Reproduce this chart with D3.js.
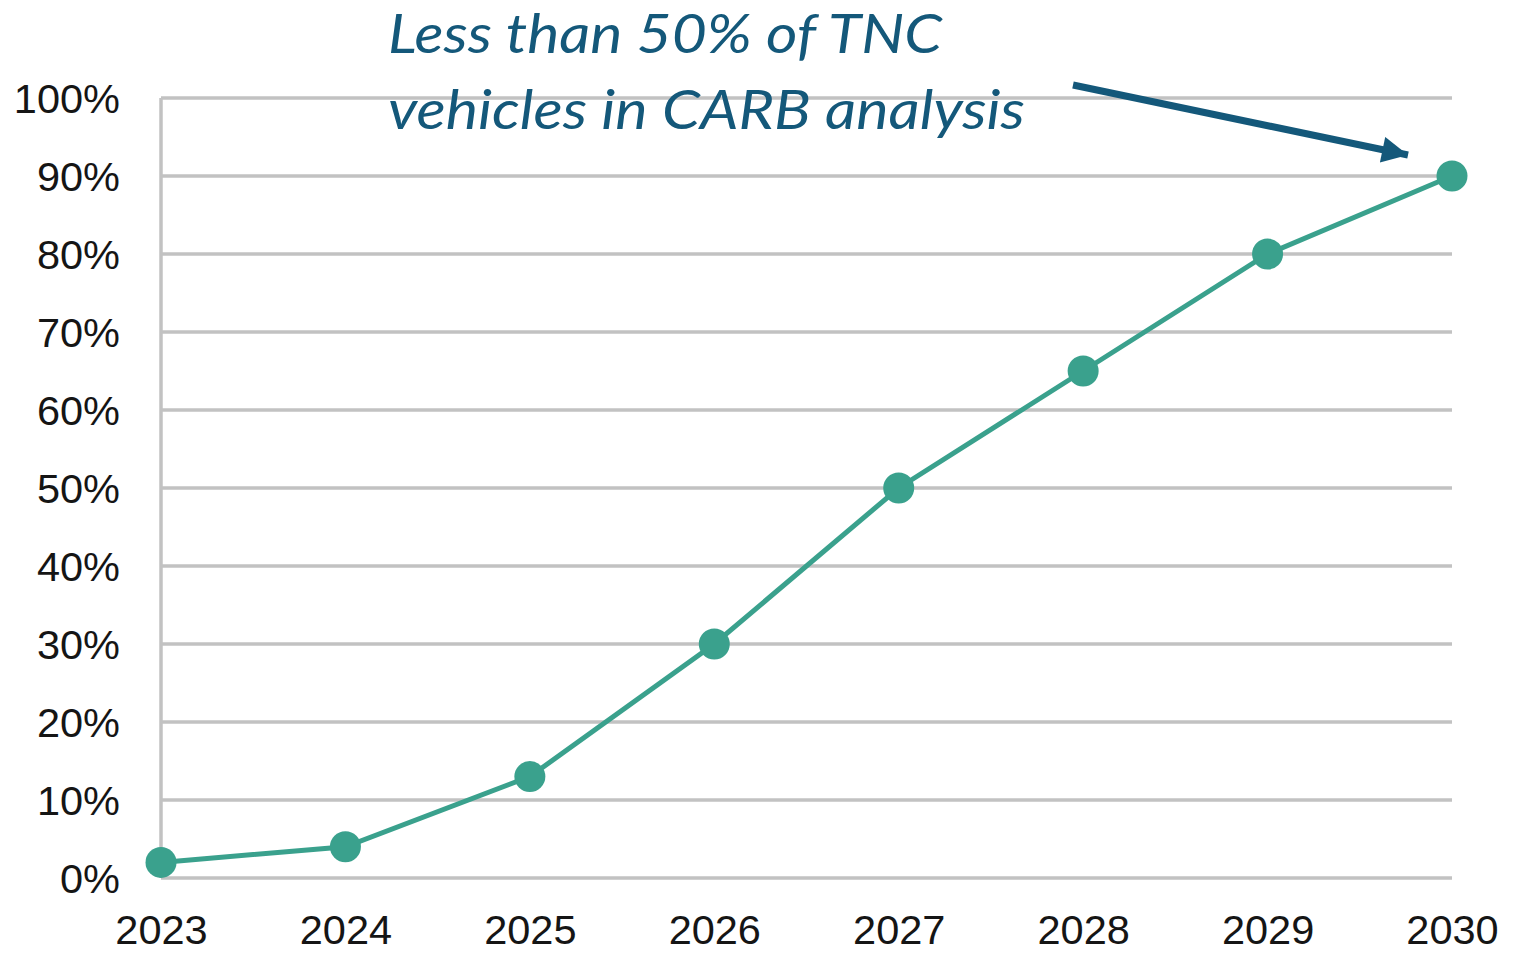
<!DOCTYPE html>
<html>
<head>
<meta charset="utf-8">
<script src="https://cdn.jsdelivr.net/npm/d3@7"></script>
<style>
  html, body { margin: 0; padding: 0; background: #fff; }
  svg { display: block; }
</style>
</head>
<body>
<script>
// values
var years = ['2023', '2024', '2025', '2026', '2027', '2028', '2029', '2030'];
var shares = [2, 4, 13, 30, 50, 65, 80, 90];
var yTicks = [0, 10, 20, 30, 40, 50, 60, 70, 80, 90, 100];
var noteLines = ['Less than 50% of TNC', 'vehicles in CARB analysis'];

var width = 1532,
    height = 953;

var plot = { left: 161, right: 1452, top: 98, bottom: 878 };

var svg = d3.select('body')
    .append('svg')
    .attr('width', width)
    .attr('height', height);

var x = d3.scalePoint()
    .domain(years)
    .range([plot.left, plot.right]);

var y = d3.scaleLinear()
    .domain([0, 100])
    .range([plot.bottom, plot.top]);

// gridlines
svg.append('g')
    .selectAll('line')
    .data(yTicks)
    .enter()
    .append('line')
    .attr('x1', plot.left)
    .attr('x2', plot.right)
    .attr('y1', function(d){ return y(d); })
    .attr('y2', function(d){ return y(d); })
    .attr('stroke', '#c2c2c2')
    .attr('stroke-width', 3.5);

svg.append('line')
    .attr('x1', plot.left)
    .attr('x2', plot.left)
    .attr('y1', plot.top)
    .attr('y2', plot.bottom)
    .attr('stroke', '#c2c2c2')
    .attr('stroke-width', 3.5);

// y axis labels
var yAxis = svg.append('g')
    .attr('transform', 'translate(' + (plot.left - 41) + ',0)')
    .call(d3.axisLeft(y).tickValues(yTicks).tickSize(0).tickPadding(0)
        .tickFormat(function(d){ return d + '%'; }));
yAxis.select('.domain').remove();
yAxis.selectAll('text')
    .attr('font-family', 'Liberation Sans, Arial, sans-serif')
    .attr('font-size', 41.5)
    .attr('fill', '#151515')
    .attr('dy', '0.34em');

// x axis labels
var xAxis = svg.append('g')
    .attr('transform', 'translate(0,' + (plot.bottom + 37) + ')')
    .call(d3.axisBottom(x).tickSize(0).tickPadding(0));
xAxis.select('.domain').remove();
xAxis.selectAll('text')
    .attr('font-family', 'Liberation Sans, Arial, sans-serif')
    .attr('font-size', 41.5)
    .attr('fill', '#151515')
    .attr('dy', '0.71em');

// series
var line = d3.line()
    .x(function(d, i){ return x(years[i]); })
    .y(function(d){ return y(d); });

svg.append('path')
    .datum(shares)
    .attr('d', line)
    .attr('fill', 'none')
    .attr('stroke', '#3aa18d')
    .attr('stroke-width', 5);

svg.append('g')
    .selectAll('circle')
    .data(shares)
    .enter()
    .append('circle')
    .attr('cx', function(d, i){ return x(years[i]); })
    .attr('cy', function(d){ return y(d); })
    .attr('r', 15.5)
    .attr('fill', '#3aa18d');

// annotation
var note = svg.append('text')
    .attr('font-family', 'Lato, "Open Sans", sans-serif')
    .attr('font-style', 'italic')
    .attr('font-size', 54)
    .attr('fill', '#14587a');

note.selectAll('tspan')
    .data(noteLines)
    .enter()
    .append('tspan')
    .attr('x', 388)
    .attr('y', function(d, i){ return 53 + i * 76; })
    .attr('textLength', function(d, i){ return i === 0 ? 554 : 637; })
    .attr('lengthAdjust', 'spacingAndGlyphs')
    .text(function(d){ return d; });

svg.append('defs')
    .append('marker')
    .attr('id', 'head')
    .attr('viewBox', '0 0 10 10')
    .attr('refX', 10)
    .attr('refY', 5)
    .attr('markerUnits', 'userSpaceOnUse')
    .attr('markerWidth', 28)
    .attr('markerHeight', 26)
    .attr('orient', 'auto')
    .append('path')
    .attr('d', 'M0,0 L10,5 L0,10 z')
    .attr('fill', '#14587a');

svg.append('line')
    .attr('x1', 1073)
    .attr('y1', 85)
    .attr('x2', 1408)
    .attr('y2', 155)
    .attr('stroke', '#14587a')
    .attr('stroke-width', 7)
    .attr('marker-end', 'url(#head)');
</script>
</body>
</html>
